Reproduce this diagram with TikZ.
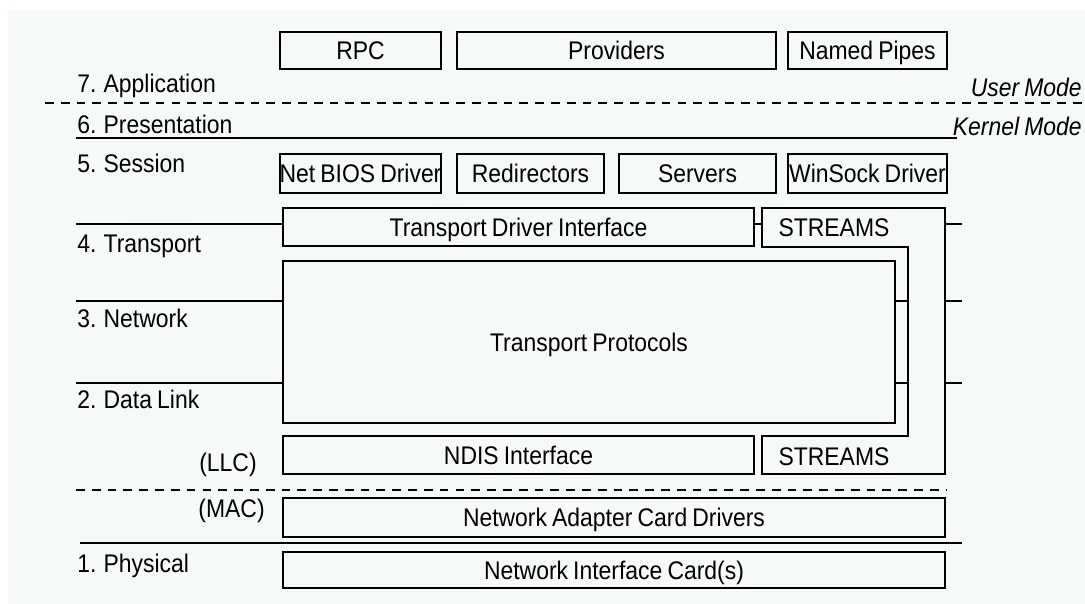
\documentclass[tikz,border=0pt]{standalone}
\usepackage{fontspec}
\setmainfont{Liberation Sans}[FakeStretch=0.9, WordSpace=0.8]
\definecolor{paper}{RGB}{246,249,250}

\tikzset{
  txt/.style={font=\fontsize{14.5}{16}\selectfont, text height=10.4pt, text depth=0pt, inner sep=0pt},
  box/.style={txt, draw, line width=1.1pt},
  span/.style n args={4}{minimum width={(#3-#1)*0.02cm}, minimum height={(#4-#2)*0.02cm},
    at={({(#1+#3)/2},{(#2+#4)/2})}},
  layer/.style={txt, anchor=west},
  mode/.style={txt, anchor=east, font=\fontsize{14.5}{16}\selectfont\itshape},
  rule/.style={line width=1.1pt},
  moderule/.style={line width=1.1pt, dash pattern=on 5pt off 4pt},
}

\begin{document}
\begin{tikzpicture}[x=0.02cm, y=-0.02cm]
  % paper
  \fill[white] (0,0) rectangle (1085,604);
  \fill[paper] (8,10) rectangle (1085,604);
  \useasboundingbox (0,0) rectangle (1085,604);

  % user mode
  \node[box, span={280}{32}{441}{69}] (rpc) {RPC};
  \node[box, span={457}{32}{776}{69}] (providers) {Providers};
  \node[box, span={788}{32}{947}{69}] (pipes) {Named Pipes};

  \draw[moderule] (45,103) -- (1085,103);
  \node[mode] (user) at (1082,87) {User Mode};
  \node[mode] (kernel) at (1082,126) {Kernel Mode};
  \draw[rule] (76,138) -- (957,138);

  % session
  \node[box, span={280}{154}{441}{193}] (netbios) {Net BIOS Driver};
  \node[box, span={457}{154}{604}{193}] (redir) {Redirectors};
  \node[box, span={619}{154}{776}{193}] (servers) {Servers};
  \node[box, span={788}{154}{947}{193}] (winsock) {WinSock Driver};

  % transport .. data link
  \node[box, span={283}{208}{754}{246}] (tdi) {Transport Driver Interface};
  \node[box, span={283}{261}{895}{423}] (proto) {Transport Protocols};
  \node[box, span={283}{436}{754}{474}] (ndis) {NDIS Interface};

  \draw[rule] (762,208) -- (945,208) -- (945,474) -- (762,474) -- (762,436)
    -- (908,436) -- (908,247) -- (762,247) -- cycle;
  \node[txt] (streamsup) at (834,227) {STREAMS};
  \node[txt] (streamslo) at (834,456) {STREAMS};

  \draw[rule] (754,224) -- (762,224);
  \draw[rule] (895,301) -- (908,301);
  \draw[rule] (895,383) -- (908,383);
  \draw[rule] (945,224) -- (962,224);
  \draw[rule] (945,301) -- (962,301);
  \draw[rule] (945,383) -- (962,383);

  \draw[rule] (76,224) -- (283,224);
  \draw[rule] (76,301) -- (283,301);
  \draw[rule] (76,383) -- (283,383);
  \draw[moderule] (76,490) -- (947,490);

  % mac / physical
  \node[box, span={283}{498}{945}{537}] (adapter) {Network Adapter Card Drivers};
  \draw[rule] (80,543) -- (962,543);
  \node[box, span={283}{552}{945}{588}] (nic) {Network Interface Card(s)};

  % osi layers
  \node[layer] (app) at (77,83) {7. Application};
  \node[layer] (pres) at (77,124) {6. Presentation};
  \node[layer] (sess) at (77,163) {5. Session};
  \node[layer] (trans) at (77,243) {4. Transport};
  \node[layer] (net) at (77,318) {3. Network};
  \node[layer] (link) at (77,399) {2. Data Link};
  \node[txt, anchor=east] (llc) at (257,462) {(LLC)};
  \node[txt, anchor=east] (mac) at (265,508) {(MAC)};
  \node[layer] (phys) at (77,563) {1. Physical};
\end{tikzpicture}
\end{document}
